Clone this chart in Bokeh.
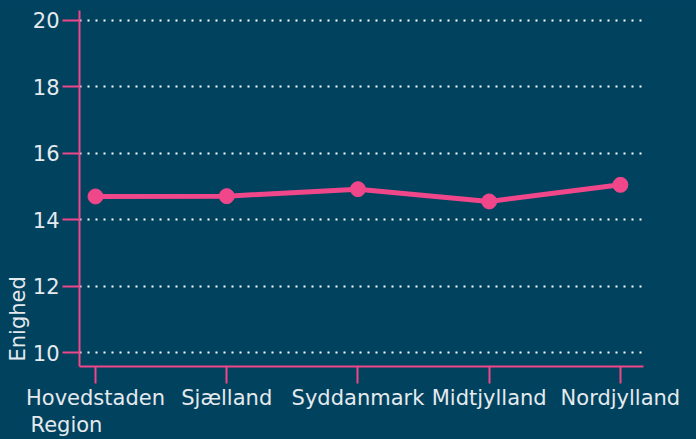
from bokeh.plotting import figure
from bokeh.models import ColumnDataSource, Range1d, FixedTicker, Title
from bokeh.embed import file_html
from bokeh.resources import INLINE

regions = ["Hovedstaden", "Sjælland", "Syddanmark", "Midtjylland", "Nordjylland"]
enighed = [14.70, 14.71, 14.92, 14.55, 15.05]
y_ticks = [10, 12, 14, 16, 18, 20]

BG = "#01425f"
PINK = "#ef478a"
TXT = "#e4eaee"
FONT = "DejaVu Sans"
FS = "21px"

xs = list(range(len(regions)))
src = ColumnDataSource(dict(x=xs, y=enighed, region=regions))

p = figure(width=696, height=439, output_backend="svg", toolbar_location=None,
           x_range=Range1d(-0.122, 4.176), y_range=Range1d(9.58, 20.30),
           frame_width=564, frame_height=356,
           min_border_left=79, min_border_top=10, min_border_right=53, min_border_bottom=73)
p.background_fill_color = BG
p.border_fill_color = BG
p.outline_line_color = None

p.xgrid.grid_line_color = None
p.ygrid.grid_line_color = "white"
p.ygrid.grid_line_width = 2
p.ygrid.grid_line_dash = "2 6"
p.ygrid.ticker = FixedTicker(ticks=y_ticks)

for ax in (p.xaxis[0], p.yaxis[0]):
    ax.axis_line_color = PINK
    ax.axis_line_width = 2
    ax.major_tick_line_color = PINK
    ax.major_tick_line_width = 2
    ax.major_tick_in = 0
    ax.major_tick_out = 17
    ax.minor_tick_line_color = None
    ax.major_label_text_color = TXT
    ax.major_label_text_font = FONT
    ax.major_label_text_font_size = FS

p.xaxis.ticker = FixedTicker(ticks=xs)
p.xaxis.major_label_overrides = {i: r for i, r in enumerate(regions)}
p.xaxis.major_label_standoff = 2
p.yaxis.ticker = FixedTicker(ticks=y_ticks)
p.yaxis.major_label_standoff = 3

p.line("x", "y", source=src, line_color=PINK, line_width=5)
p.scatter("x", "y", source=src, size=15, fill_color=PINK, line_color=PINK)

p.add_layout(Title(text="Region", align="left", offset=-49, text_color=TXT, text_font=FONT,
                   text_font_size=FS, text_font_style="normal", standoff=0,
                   vertical_align="top", text_line_height=0.8), "below")
p.add_layout(Title(text="Enighed", align="left", offset=5, text_color=TXT, text_font=FONT,
                   text_font_size=FS, text_font_style="normal", standoff=0), "left")

html = file_html(p, INLINE)
html = html.replace("<head>", "<head><style>body{background:%s;}</style>" % BG, 1)
open("out.html", "w").write(html)
